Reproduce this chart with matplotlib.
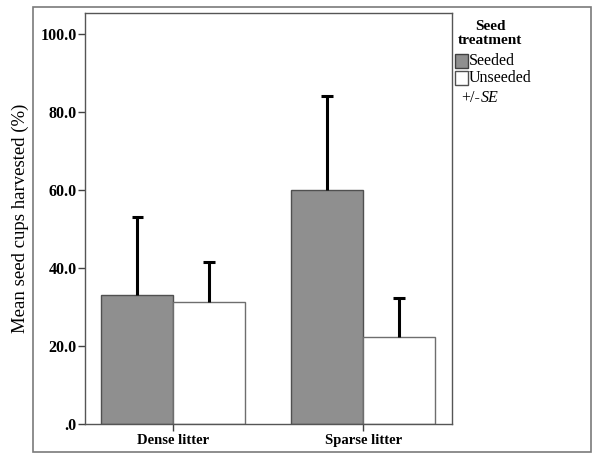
import numpy as np
import matplotlib.pyplot as plt
from matplotlib.patches import Rectangle

plt.rcParams['font.family'] = ['Liberation Serif', 'DejaVu Serif']

categories = ['Dense litter', 'Sparse litter']
seeded = [33.1, 60.0]
seeded_se = [20.1, 24.1]
unseeded = [31.3, 22.3]
unseeded_se = [10.2, 10.0]
yticks = [0, 20, 40, 60, 80, 100]
ytick_labels = ['.0', '20.0', '40.0', '60.0', '80.0', '100.0']

W, H = 600, 461
fig = plt.figure(figsize=(W / 100, H / 100), dpi=100)
ax = fig.add_axes([85 / W, 1 - 424 / H, (452 - 85) / W, (424 - 13) / H])

# outer frame
fig.patches.append(Rectangle((33 / W, 1 - 452 / H), (591 - 33) / W, (452 - 7) / H,
                             transform=fig.transFigure, fill=False,
                             edgecolor='#7a7a7a', linewidth=1.2))

x = np.arange(len(categories))
bw = 0.378
cap = 0.03
ax.bar(x - bw / 2, seeded, bw, color='#8f8f8f', edgecolor='#505050', linewidth=1.0, zorder=2)
ax.bar(x + bw / 2, unseeded, bw, color='white', edgecolor='#6e6e6e', linewidth=1.0, zorder=2)
for xs, m, se in [(x - bw / 2, seeded, seeded_se), (x + bw / 2, unseeded, unseeded_se)]:
    top = np.array(m) + np.array(se)
    ax.vlines(xs, m, top, color='black', linewidth=2.2, zorder=3)
    ax.hlines(top, xs - cap, xs + cap, color='black', linewidth=2.2, zorder=3)

ax.set_xlim(-0.464, 1.468)
ax.set_ylim(0, 105.4)
ax.set_yticks(yticks)
ax.set_yticklabels(ytick_labels, fontsize=11.5, fontweight='bold')
ax.set_xticks(x)
ax.set_xticklabels(categories, fontsize=10.5, fontweight='bold')
ax.tick_params(axis='both', direction='out', length=5, width=1, color='#404040')
ax.tick_params(axis='y', pad=1)
ax.tick_params(axis='x', pad=2)
for s in ax.spines.values():
    s.set_color('#555555')
    s.set_linewidth(1)
ax.set_ylabel('Mean seed cups harvested (%)', fontsize=13.5)
ax.yaxis.set_label_coords(-0.152, 0.5)

# legend
fig.text(490 / W, 1 - 33 / H, 'Seed\ntreatment', ha='center', va='center',
         fontsize=11, fontweight='bold', linespacing=1.1)
fig.patches.append(Rectangle((455 / W, 1 - 68 / H), 13 / W, 14 / H, transform=fig.transFigure,
                             facecolor='#8f8f8f', edgecolor='#404040', linewidth=1))
fig.patches.append(Rectangle((455 / W, 1 - 85 / H), 13 / W, 14 / H, transform=fig.transFigure,
                             facecolor='white', edgecolor='#505050', linewidth=1))
fig.text(469 / W, 1 - 61 / H, 'Seeded', ha='left', va='center', fontsize=11.5)
fig.text(469 / W, 1 - 78 / H, 'Unseeded', ha='left', va='center', fontsize=11.5)
fig.text(461 / W, 1 - 98 / H, '+/-', ha='left', va='center', fontsize=11.5)
fig.text(481 / W, 1 - 98 / H, 'SE', ha='left', va='center', fontsize=11.5, style='italic')

fig.savefig('out.png', dpi=100)
